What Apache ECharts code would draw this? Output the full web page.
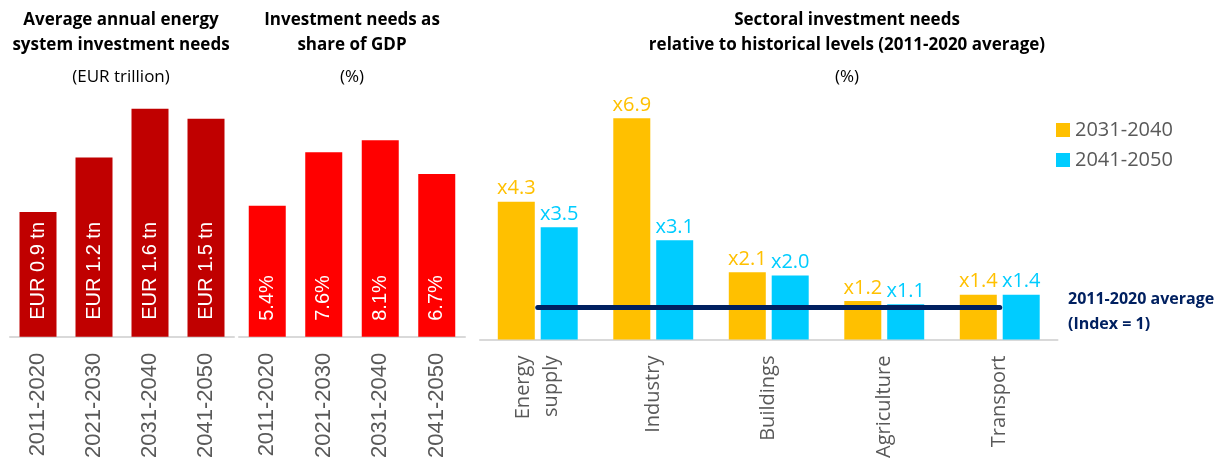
<!DOCTYPE html>
<html>
<head>
<meta charset="utf-8">
<script src="https://cdn.jsdelivr.net/npm/echarts@6/dist/echarts.min.js"></script>
<style>
	html, body { margin: 0; padding: 0; background: #fff; }
	#chart { width: 1216px; height: 461px; }
</style>
</head>
<body>
<div id="chart"></div>
<script>
// panel 1 - annual investment (EUR trillion)
var periods = ['2011-2020', '2021-2030', '2031-2040', '2041-2050'];
var investTn = [0.87, 1.25, 1.59, 1.52];
var investLabels = ['EUR 0.9 tn', 'EUR 1.2 tn', 'EUR 1.6 tn', 'EUR 1.5 tn'];

// panel 2 - share of GDP (%)
var gdpShare = [5.4, 7.6, 8.1, 6.7];

// panel 3 - sectoral needs vs 2011-2020 average
var sectors = ['Energy\nsupply', 'Industry', 'Buildings', 'Agriculture', 'Transport'];
var ratio2031 = [4.3, 6.9, 2.1, 1.2, 1.4];
var ratio2041 = [3.5, 3.1, 2.0, 1.1, 1.4];
var baseIndex = 1;

var font = 'Open Sans';
var arial = 'Liberation Sans';
var grey = '#595959';

function catAxis(idx, data, fam, size) {
	return {
		type: 'category',
		gridIndex: idx,
		data: data,
		axisTick: { show: false },
		axisLine: { lineStyle: { color: '#D9D9D9', width: 2 } },
		axisLabel: {
			rotate: 90,
			margin: 16,
			color: grey,
			fontSize: size,
			lineHeight: 28,
			fontFamily: fam,
			interval: 0
		}
	};
}

function valAxis(idx, max) {
	return {
		type: 'value',
		gridIndex: idx,
		min: 0,
		max: max,
		show: false
	};
}

function titleBlock(text, sub, x) {
	return {
		text: text,
		subtext: sub,
		left: x,
		top: 8,
		textAlign: 'center',
		padding: 0,
		itemGap: 7,
		textStyle: { fontSize: 17, fontWeight: 'bold', color: '#000', lineHeight: 25 },
		subtextStyle: { fontSize: 17, color: '#000', lineHeight: 25 }
	};
}

var myChart = echarts.init(document.getElementById('chart'));
myChart.setOption({
	animation: false,
	textStyle: { fontFamily: font },
	title: [
		titleBlock('Average annual energy\nsystem investment needs', '(EUR trillion)', 121),
		titleBlock('Investment needs as\nshare of GDP', '(%)', 352),
		titleBlock('Sectoral investment needs\nrelative to historical levels (2011-2020 average)', '(%)', 847)
	],
	legend: {
		data: ['2031-2040', '2041-2050'],
		orient: 'vertical',
		left: 1051,
		top: 115,
		icon: 'rect',
		itemWidth: 14,
		itemHeight: 14,
		itemGap: 10,
		textStyle: { fontSize: 20, color: grey }
	},
	graphic: [{
		type: 'text',
		left: 1068,
		top: 287,
		style: {
			text: '2011-2020 average\n(Index = 1)',
			font: 'bold 16px "Open Sans"',
			fill: '#002060',
			lineHeight: 25
		}
	}],
	grid: [
		{ left: 10, top: 50, width: 224, height: 290 },
		{ left: 239, top: 94, width: 226, height: 244 },
		{ left: 480, top: 83, width: 577.5, height: 258 }
	],
	xAxis: [
		catAxis(0, periods, arial, 22),
		catAxis(1, periods, arial, 22),
		catAxis(2, sectors, font, 20)
	],
	yAxis: [valAxis(0, 2), valAxis(1, 10), valAxis(2, 8)],
	series: [{
		name: 'invest',
		type: 'bar',
		xAxisIndex: 0,
		yAxisIndex: 0,
		data: investTn,
		barWidth: 37,
		itemStyle: { color: '#C00000' },
		label: {
			show: true,
			position: 'insideBottom',
			distance: 17,
			rotate: 90,
			align: 'left',
			verticalAlign: 'middle',
			color: '#fff',
			fontSize: 20,
			fontFamily: arial,
			formatter: function (p) { return investLabels[p.dataIndex]; }
		}
	}, {
		name: 'gdp',
		type: 'bar',
		xAxisIndex: 1,
		yAxisIndex: 1,
		data: gdpShare,
		barWidth: 37,
		itemStyle: { color: '#FF0000' },
		label: {
			show: true,
			position: 'insideBottom',
			distance: 16,
			rotate: 90,
			align: 'left',
			verticalAlign: 'middle',
			color: '#fff',
			fontSize: 20,
			fontFamily: arial,
			formatter: function (p) { return p.value.toFixed(1) + '%'; }
		}
	}, {
		name: '2031-2040',
		type: 'bar',
		xAxisIndex: 2,
		yAxisIndex: 2,
		data: ratio2031,
		barWidth: 37,
		barGap: '16%',
		itemStyle: { color: '#FFC000' },
		label: {
			show: true,
			position: 'top',
			distance: 3,
			color: '#FFC000',
			fontSize: 20,
			formatter: function (p) { return 'x' + p.value.toFixed(1); }
		}
	}, {
		name: '2041-2050',
		type: 'bar',
		xAxisIndex: 2,
		yAxisIndex: 2,
		data: ratio2041,
		barWidth: 37,
		barGap: '16%',
		itemStyle: { color: '#00CCFF' },
		label: {
			show: true,
			position: 'top',
			distance: 3,
			color: '#00CCFF',
			fontSize: 20,
			formatter: function (p) { return 'x' + p.value.toFixed(1); }
		}
	}, {
		// 2011-2020 reference level, drawn between category centres
		name: 'index',
		type: 'line',
		xAxisIndex: 2,
		yAxisIndex: 2,
		data: [],
		z: 5,
		markLine: {
			silent: true,
			symbol: 'none',
			label: { show: false },
			lineStyle: { color: '#002060', width: 5, type: 'solid', cap: 'round' },
			data: [[{ coord: [0, baseIndex] }, { coord: [sectors.length - 1, baseIndex] }]]
		}
	}]
});
</script>
</body>
</html>
